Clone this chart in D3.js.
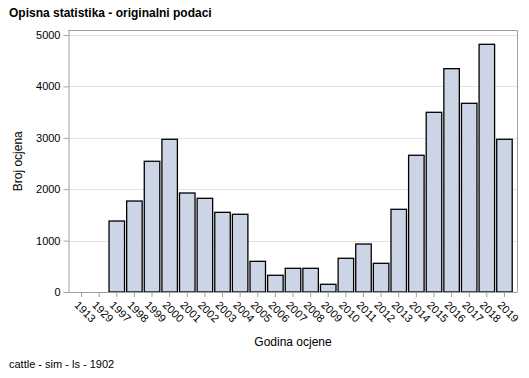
<!DOCTYPE html>
<html>
<head>
<meta charset="utf-8">
<script src="https://cdn.jsdelivr.net/npm/d3@7"></script>
<style>
  body { margin: 0; background: #fff; }
  text { font-family: Arial, "Liberation Sans", sans-serif; }
</style>
</head>
<body>
<svg id="chart" width="529" height="378"></svg>
<script>
const categories = ["1913","1929","1997","1998","1999","2000","2001","2002","2003","2004","2005","2006","2007","2008","2009","2010","2011","2012","2013","2014","2015","2016","2017","2018","2019"];
const values = [0,0,1381,1770,2543,2971,1926,1823,1550,1512,597,325,461,461,150,656,934,558,1609,2660,3496,4345,3671,4819,2971];
const yTicks = [0,1000,2000,3000,4000,5000];

const svg = d3.select("#chart");
const m = { left: 68.5, right: 517.5, top: 30.5, bottom: 292 };

const x = d3.scaleBand().domain(categories).range([m.left, m.right]).paddingInner(0.12).paddingOuter(0.3);
const y = d3.scaleLinear().domain([0, 5000]).range([m.bottom, 35]);

// grid
svg.append("g").selectAll("line").data(yTicks.filter(d => d > 0)).join("line")
  .attr("x1", m.left).attr("x2", m.right)
  .attr("y1", d => Math.round(y(d)) + 0.5).attr("y2", d => Math.round(y(d)) + 0.5)
  .attr("stroke", "#e3e3e3").attr("stroke-width", 1);

// frame top/right
svg.append("path")
  .attr("d", `M${m.left},${m.top}H${m.right}V${m.bottom}`)
  .attr("fill", "none").attr("stroke", "#a0a0a0");

// bars
svg.append("g").selectAll("rect").data(categories.map((c, i) => ({ c, v: values[i] })).filter(d => d.v > 0)).join("rect")
  .attr("x", d => x(d.c))
  .attr("width", x.bandwidth())
  .attr("y", d => y(d.v))
  .attr("height", d => y(0) - y(d.v))
  .attr("fill", "#cbd5e5")
  .attr("stroke", "#000").attr("stroke-width", 1.3);

// y axis
const ya = svg.append("g").attr("transform", `translate(${m.left},0)`)
  .call(d3.axisLeft(y).tickValues(yTicks).tickSize(5).tickPadding(3).tickFormat(d3.format("d")));
ya.select(".domain").attr("stroke", "#a0a0a0").attr("d", `M0.5,${m.top}V${m.bottom}`);
ya.selectAll(".tick line").attr("stroke", "#a0a0a0");
ya.selectAll(".tick text").attr("font-size", 11).attr("fill", "#000").attr("font-family", "Arial, 'Liberation Sans', sans-serif");

// x axis
const xa = svg.append("g").attr("transform", `translate(0,${m.bottom})`)
  .call(d3.axisBottom(x).tickSize(5).tickPadding(3));
xa.select(".domain").attr("stroke", "#a0a0a0").attr("d", `M${m.left},0.5H${m.right}`);
xa.selectAll(".tick line").attr("stroke", "#a0a0a0");
xa.selectAll(".tick text")
  .attr("font-size", 11).attr("fill", "#000").attr("font-family", "Arial, 'Liberation Sans', sans-serif")
  .attr("text-anchor", "start").attr("dy", "0.35em")
  .attr("transform", "translate(-5,11) rotate(45)").attr("x", 0).attr("y", 0);

// title
svg.append("text").attr("x", 9).attr("y", 17).attr("font-size", 12).attr("font-weight", "bold").text("Opisna statistika - originalni podaci");
// axis labels
svg.append("text").attr("transform", `translate(22,${(m.top + m.bottom) / 2}) rotate(-90)`).attr("text-anchor", "middle").attr("font-size", 12).text("Broj ocjena");
svg.append("text").attr("x", (m.left + m.right) / 2).attr("y", 346).attr("text-anchor", "middle").attr("font-size", 12).text("Godina ocjene");
// footnote
svg.append("text").attr("x", 9).attr("y", 368).attr("font-size", 11).text("cattle - sim - ls - 1902");
</script>
</body>
</html>
